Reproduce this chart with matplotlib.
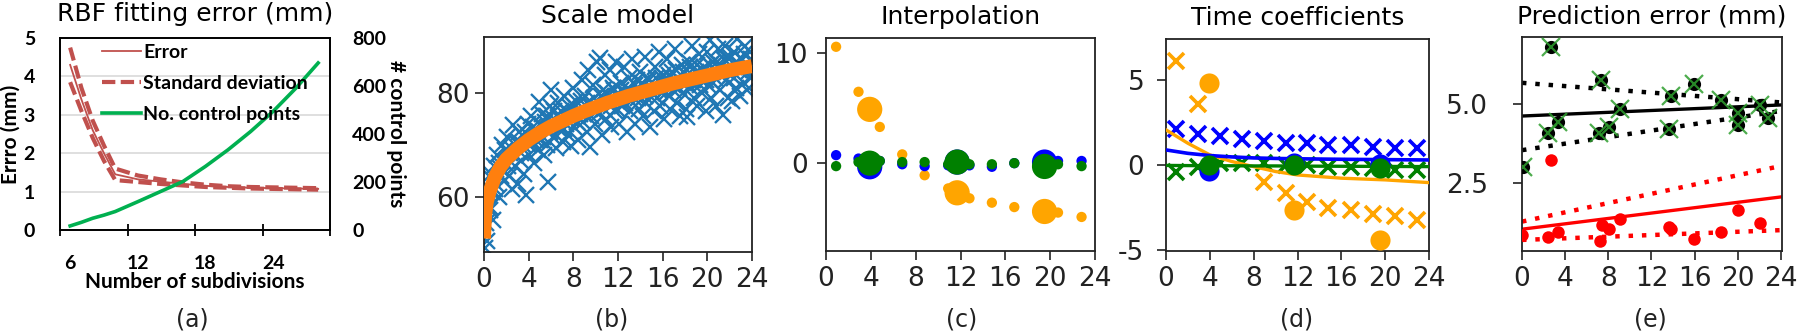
import matplotlib
matplotlib.use("Agg")
import matplotlib.pyplot as plt
from matplotlib.lines import Line2D

plt.rcParams['font.family'] = ['DejaVu Sans']
plt.rcParams['axes.unicode_minus'] = False
plt.rcParams['axes.linewidth'] = 1.3

# ---------------- (a) RBF fitting error ----------------
subdiv = [6, 7, 8, 9, 10, 12, 14, 16, 18, 20, 22, 24, 26, 28]
err_mean = [4.3, 3.4, 2.6, 2.0, 1.45, 1.32, 1.26, 1.2, 1.15, 1.12, 1.1, 1.09, 1.08, 1.07]
err_upper = [4.75, 3.7, 2.85, 2.2, 1.6, 1.42, 1.32, 1.24, 1.18, 1.14, 1.12, 1.11, 1.1, 1.09]
err_lower = [3.85, 3.1, 2.4, 1.8, 1.3, 1.25, 1.2, 1.16, 1.12, 1.1, 1.08, 1.07, 1.06, 1.05]
n_ctrl = [17, 32, 49, 62, 77, 118, 160, 202, 265, 334, 410, 494, 590, 696]
a_xticks = [6, 12, 18, 24]

# ---------------- (b) Scale model ----------------
scale_x = [0.05, 0.15, 0.25, 0.3, 0.4, 0.5, 0.6, 0.7, 0.8, 0.9,
           1.05, 1.2, 1.3, 1.45, 1.6, 1.75, 1.9,
           2.05, 2.2, 2.35, 2.5, 2.6, 2.75, 2.9,
           3.0, 3.15, 3.3, 3.45, 3.6, 3.8, 3.9,
           4.05, 4.2, 4.35, 4.5, 4.65, 4.8, 4.9,
           5.05, 5.2, 5.35, 5.5, 5.65, 5.76, 5.9,
           6.0, 6.15, 6.3, 6.45, 6.6, 6.75, 6.9,
           7.05, 7.2, 7.35, 7.5, 7.65, 7.8, 7.95,
           8.1, 8.25, 8.4, 8.6, 8.75, 8.9,
           9.05, 9.2, 9.35, 9.5, 9.65, 9.8, 9.95,
           10.1, 10.25, 10.4, 10.55, 10.7, 10.85, 10.95,
           11.1, 11.25, 11.4, 11.55, 11.7, 11.85, 11.95,
           12.1, 12.25, 12.4, 12.55, 12.7, 12.85, 12.95,
           13.1, 13.25, 13.4, 13.55, 13.7, 13.85, 13.95,
           14.1, 14.25, 14.4, 14.55, 14.7, 14.9,
           15.05, 15.2, 15.35, 15.5, 15.65, 15.8, 15.95,
           16.1, 16.25, 16.4, 16.55, 16.7, 16.85, 16.95,
           17.1, 17.25, 17.4, 17.55, 17.7, 17.85, 17.95,
           18.1, 18.2, 18.35, 18.5, 18.65, 18.8, 18.95,
           19.1, 19.25, 19.4, 19.55, 19.7, 19.85, 19.95,
           20.1, 20.2, 20.35, 20.5, 20.65, 20.8, 20.95,
           21.1, 21.25, 21.4, 21.55, 21.7, 21.85, 21.95,
           22.1, 22.25, 22.4, 22.55, 22.7, 22.85, 22.95,
           23.1, 23.25, 23.4, 23.55, 23.7, 23.85, 23.95]
scale_y = [50.2, 55.0, 58.5, 51.5, 62.0, 57.5, 64.5, 61.0, 55.5, 66.0,
           62.5, 68.0, 60.0, 65.5, 70.0, 63.0, 66.5,
           71.5, 64.0, 68.5, 61.5, 73.8, 66.0, 70.5,
           62.5, 72.5, 67.0, 70.0, 64.5, 60.4, 74.0,
           68.0, 75.5, 70.5, 66.5, 73.0, 69.0, 78.3,
           71.0, 76.0, 68.0, 74.5, 70.0, 62.9, 77.5,
           80.6, 71.5, 75.0, 69.5, 78.0, 73.0, 76.5,
           70.5, 79.5, 74.0, 72.0, 77.5, 69.8, 81.0,
           73.5, 78.5, 71.0, 76.0, 82.5, 74.5,
           79.5, 72.5, 84.5, 69.7, 77.5, 81.5, 74.0,
           86.0, 76.0, 86.7, 72.0, 80.5, 83.5, 75.0,
           78.0, 84.5, 73.5, 81.0, 76.5, 86.0, 79.5,
           74.0, 82.0, 77.5, 85.0, 80.0, 72.5, 83.0,
           76.5, 86.5, 79.0, 74.0, 82.5, 77.0, 84.0,
           80.0, 75.5, 87.0, 78.0, 83.0, 73.5,
           81.0, 76.5, 85.0, 79.0, 88.0, 77.5, 83.0,
           75.0, 82.0, 86.5, 79.5, 77.0, 84.0, 80.5,
           88.5, 78.0, 83.0, 75.5, 85.5, 80.0, 82.0,
           77.0, 75.4, 86.0, 81.0, 89.0, 79.0, 84.0,
           77.5, 87.5, 82.5, 80.0, 85.0, 76.5, 88.0,
           81.5, 90.2, 79.0, 86.0, 83.0, 77.5, 88.5,
           80.5, 85.5, 75.8, 89.0, 82.5, 79.0, 86.5,
           83.5, 78.5, 88.0, 81.0, 90.5, 84.5, 79.5,
           86.5, 82.0, 89.0, 80.5, 85.0, 88.0, 83.0]
# points close to the fitted curve (dense core of the band)
scale_x2 = [0.35, 0.55, 0.75, 1.0, 1.35, 1.55, 1.85, 2.15, 2.45, 2.8, 3.1, 3.35, 3.7,
            4.0, 4.4, 4.7, 5.0, 5.3, 5.6, 5.95, 6.25, 6.55, 6.85, 7.15, 7.45, 7.75,
            8.05, 8.35, 8.65, 8.95, 9.25, 9.55, 9.85, 10.15, 10.45, 10.75, 11.05,
            11.35, 11.65, 11.95, 12.3, 12.6, 12.9, 13.2, 13.5, 13.8, 14.15, 14.45,
            14.75, 15.1, 15.4, 15.7, 16.0, 16.3, 16.6, 16.9, 17.2, 17.5, 17.8, 18.15,
            18.45, 18.75, 19.05, 19.35, 19.65, 19.9, 20.25, 20.55, 20.85, 21.15,
            21.45, 21.75, 22.05, 22.35, 22.65, 22.95, 23.3, 23.6, 23.9]
scale_y2 = [60.5, 58.0, 63.5, 61.5, 66.5, 64.0, 69.0, 66.0, 69.5, 68.0, 70.5, 68.5, 72.5,
            70.0, 73.5, 71.0, 74.0, 71.5, 75.5, 72.5, 76.5, 73.5, 75.0, 73.0, 76.5, 75.0,
            77.5, 74.5, 78.5, 76.0, 78.0, 75.5, 79.0, 76.5, 79.5, 77.0, 80.0,
            77.5, 80.5, 77.0, 80.5, 78.0, 81.0, 78.5, 81.5, 79.0, 82.0, 79.5,
            82.5, 80.0, 83.0, 80.5, 83.5, 80.0, 83.5, 81.5, 84.5, 81.0, 84.0, 82.0,
            85.0, 82.5, 85.5, 81.5, 84.5, 82.5, 85.5, 82.0, 86.0, 83.5,
            86.5, 84.0, 87.0, 83.0, 86.0, 84.5, 87.5, 84.0, 86.5]
fit_x = [0, 0.1, 0.25, 0.5, 1, 1.5, 2, 3, 4, 5, 6, 7, 8, 9, 10, 11, 12, 13, 14,
         15, 16, 17, 18, 19, 20, 21, 22, 23, 24]
fit_y = [52.0, 56.5, 59.0, 61.0, 64.0, 65.9, 67.3, 69.3, 71.0, 72.4, 73.6, 74.6,
         75.6, 76.5, 77.3, 78.1, 78.8, 79.5, 80.1, 80.7, 81.3, 81.9, 82.4, 82.9,
         83.4, 83.9, 84.4, 84.8, 85.2]

# ---------------- (c) Interpolation ----------------
interp_x = [0.9, 2.9, 3.9, 4.8, 6.8, 8.8, 10.9, 11.7, 12.8, 14.8, 16.8, 19.5, 20.7, 22.8]
interp_big = [0, 0, 1, 0, 0, 0, 0, 1, 0, 0, 0, 1, 0, 0]
interp_orange = [10.6, 6.5, 4.9, 3.3, 0.8, -1.1, -2.3, -2.7, -3.2, -3.6, -4.0, -4.4, -4.5, -4.9]
interp_blue = [0.73, 0.42, -0.33, 0.2, -0.1, -0.27, -0.2, 0.1, -0.2, -0.33, 0.0, 0.1, 0.2, 0.2]
interp_green = [-0.27, 0.1, 0.0, 0.2, 0.1, 0.1, -0.1, 0.1, -0.1, -0.1, 0.0, -0.3, -0.1, -0.27]

# ---------------- (d) Time coefficients ----------------
tc_x = [0.9, 2.95, 4.9, 6.9, 8.9, 10.95, 12.85, 14.8, 16.9, 18.9, 20.9, 22.9]
tc_blue = [2.1, 1.8, 1.67, 1.53, 1.41, 1.27, 1.27, 1.18, 1.18, 1.04, 0.98, 0.98]
tc_green = [-0.39, -0.1, 0.1, 0.1, 0.1, 0.0, 0.0, -0.1, -0.1, -0.2, -0.3, -0.3]
tc_orange_x = [0.9, 2.95, 8.9, 10.95, 12.85, 14.8, 16.9, 18.9, 20.9, 22.9]
tc_orange = [6.08, 3.59, -0.98, -1.67, -2.16, -2.55, -2.65, -2.9, -3.0, -3.24]
tc_line_x = [0, 2, 4, 6, 8, 10, 12, 16, 20, 24]
tc_line_blue = [0.88, 0.68, 0.55, 0.47, 0.41, 0.38, 0.36, 0.33, 0.31, 0.29]
tc_line_orange = [2.06, 1.27, 0.59, 0.2, -0.1, -0.39, -0.59, -0.78, -0.88, -1.04]
tc_line_green = [-0.03, -0.04, -0.05, -0.05, -0.06, -0.06, -0.07, -0.08, -0.09, -0.1]
tc_ctrl_x = [3.9, 11.7, 19.5]
tc_ctrl_orange = [4.8, -2.65, -4.4]
tc_ctrl_blue = [-0.33, 0.1, 0.05]
tc_ctrl_green = [0.0, 0.0, -0.2]

# ---------------- (e) Prediction error ----------------
pe_black_x = [0.1, 2.45, 2.7, 3.3, 7.1, 7.35, 8.1, 9.1, 13.6, 13.8, 15.9, 18.4, 20.05, 20.05, 22.1, 22.8]
pe_black = [3.02, 4.07, 6.81, 4.44, 4.07, 5.76, 4.28, 4.83, 4.21, 5.26, 5.62, 5.13, 4.71, 4.34, 4.97, 4.55]
pe_red_x = [0.0, 2.45, 2.7, 3.3, 7.2, 7.4, 8.1, 9.1, 13.6, 13.8, 15.9, 18.4, 20.05, 22.1]
pe_red = [0.85, 0.8, 3.23, 0.96, 0.67, 1.17, 1.04, 1.35, 1.12, 1.05, 0.72, 0.96, 1.65, 1.22]
pe_line_x = [0, 24]
pe_black_fit = [4.62, 4.97]
pe_black_hi = [5.67, 5.05]
pe_black_lo = [3.54, 4.78]
pe_red_fit = [1.04, 2.06]
pe_red_hi = [1.28, 3.04]
pe_red_lo = [0.70, 1.01]

W, H = 1800, 333
fig = plt.figure(figsize=(W / 100, H / 100), dpi=100)


def rect(l, r, t, b):
    return [l / W, 1 - b / H, (r - l) / W, (b - t) / H]


TICK = 19
TITLE = 18
xticks24 = [0, 4, 8, 12, 16, 20, 24]


def style(ax, ypad):
    ax.tick_params(labelsize=TICK, length=6.5, width=1.2, colors='#222222', pad=4.5)
    ax.tick_params(axis='y', pad=ypad)
    for s in ax.spines.values():
        s.set_color('#222222')


# ---------- (a) ----------
red = '#C0504D'
grn = '#00B050'
bold = dict(family='Lato', weight='bold')
axA = fig.add_axes(rect(60, 330, 38, 230))
axA.set_xlim(5.1, 29.05)
axA.set_ylim(0, 5)
axA.yaxis.grid(True, color='#d9d9d9', lw=1.2)
axA.set_axisbelow(True)
axA.plot(subdiv, err_mean, color=red, lw=1.3)
axA.plot(subdiv, err_upper, color=red, lw=3, ls=(0, (3.2, 1.3)))
axA.plot(subdiv, err_lower, color=red, lw=3, ls=(0, (3.2, 1.3)))
axA.set_xticks(a_xticks)
axA.set_xticks([5.11, 11.14, 17.08, 23.1, 29.05], minor=True)
axA.tick_params(axis='x', which='major', length=0, pad=18)
axA.tick_params(axis='x', which='minor', length=9, width=1.3, direction='inout')
axA.tick_params(axis='y', length=0, pad=18)
axA.set_yticks([0, 1, 2, 3, 4, 5])
for lab in axA.get_xticklabels() + axA.get_yticklabels():
    lab.set_fontfamily('Lato'); lab.set_fontweight('bold'); lab.set_fontsize(14)
axA.set_xlabel('Number of subdivisions', fontsize=15, labelpad=0, **bold)
axA.set_ylabel('Errro (mm)', fontsize=15, labelpad=2, **bold)
axA.set_title('RBF fitting error (mm)', fontsize=TITLE, pad=12)
for s in axA.spines.values():
    s.set_color('#222222')
axA2 = axA.twinx()
axA2.plot(subdiv, n_ctrl, color=grn, lw=2.6)
axA2.set_ylim(0, 800)
axA2.set_yticks([0, 200, 400, 600, 800])
axA2.tick_params(axis='y', length=0, pad=16)
for lab in axA2.get_yticklabels():
    lab.set_fontfamily('Lato'); lab.set_fontweight('bold'); lab.set_fontsize(14)
axA2.set_ylabel('# control points', rotation=270, fontsize=15, labelpad=14, **bold)
handles = [Line2D([], [], color=red, lw=1.3),
           Line2D([], [], color=red, lw=3, ls=(0, (3.2, 1.3))),
           Line2D([], [], color=grn, lw=2.6)]
axA2.legend(handles, ['Error', 'Standard deviation', 'No. control points'],
            loc='upper left', bbox_to_anchor=(0.14, 0.99), frameon=False,
            prop=dict(family='Lato', weight='bold', size=14), handlelength=2.0,
            handletextpad=0.15, labelspacing=0.72, borderpad=0.2, borderaxespad=0)

# ---------- (b) ----------
axB = fig.add_axes(rect(484, 752, 37, 252))
axB.plot(scale_x, scale_y, 'x', color='#1f77b4', ms=12, mew=1.7, zorder=2)
axB.plot(scale_x2, scale_y2, 'x', color='#1f77b4', ms=12, mew=1.7, zorder=2)
axB.plot(fit_x, fit_y, color='#ff7f0e', lw=10, zorder=3, solid_capstyle='butt')
axB.set_xlim(0, 24)
axB.set_ylim(49.4, 90.8)
axB.set_xticks(xticks24)
axB.set_yticks([60, 80])
axB.set_title('Scale model', fontsize=TITLE, pad=10)
style(axB, 3.5)

# ---------- (c) ----------
axC = fig.add_axes(rect(826, 1095, 38, 251))
sizes = [330 if b else 55 for b in interp_big]
axC.scatter(interp_x, interp_orange, s=sizes, color='orange', lw=0, zorder=2)
axC.scatter(interp_x, interp_blue, s=sizes, color='blue', lw=0, zorder=3)
axC.scatter(interp_x, interp_green, s=sizes, color='green', lw=0, zorder=4)
axC.set_xlim(0, 24)
axC.set_ylim(-8.0, 11.4)
axC.set_xticks(xticks24)
axC.set_yticks([0, 10])
axC.set_title('Interpolation', fontsize=TITLE, pad=10)
style(axC, 6.5)

# ---------- (d) ----------
axD = fig.add_axes(rect(1166, 1429, 39, 251))
axD.plot(tc_orange_x, tc_orange, 'x', color='orange', ms=11, mew=2.6, zorder=2)
axD.plot(tc_x, tc_green, 'x', color='green', ms=11, mew=2.6, zorder=2)
axD.plot(tc_x, tc_blue, 'x', color='blue', ms=11, mew=2.6, zorder=2)
axD.plot(tc_line_x, tc_line_orange, color='orange', lw=2.4, zorder=3)
axD.plot(tc_line_x, tc_line_green, color='green', lw=2.4, zorder=3)
axD.plot(tc_line_x, tc_line_blue, color='blue', lw=2.6, zorder=3)
axD.scatter(tc_ctrl_x, tc_ctrl_orange, s=210, color='orange', lw=0, zorder=4)
axD.scatter(tc_ctrl_x, tc_ctrl_blue, s=210, color='blue', lw=0, zorder=4)
axD.scatter(tc_ctrl_x, tc_ctrl_green, s=210, color='green', lw=0, zorder=5)
axD.set_xlim(0, 24)
axD.set_ylim(-5.06, 7.4)
axD.set_xticks(xticks24)
axD.set_yticks([-5, 0, 5])
axD.set_title('Time coefficients', fontsize=TITLE, pad=10)
style(axD, 9)

# ---------- (e) ----------
axE = fig.add_axes(rect(1522, 1782, 37, 251))
dot = (0, (1, 2))
axE.plot(pe_line_x, pe_black_fit, color='black', lw=2.4, zorder=2)
axE.plot(pe_line_x, pe_black_hi, color='black', lw=3.2, ls=dot, zorder=2)
axE.plot(pe_line_x, pe_black_lo, color='black', lw=3.2, ls=dot, zorder=2)
axE.plot(pe_line_x, pe_red_fit, color='red', lw=2.4, zorder=2)
axE.plot(pe_line_x, pe_red_hi, color='red', lw=3.2, ls=dot, zorder=2)
axE.plot(pe_line_x, pe_red_lo, color='red', lw=3.2, ls=dot, zorder=2)
axE.plot(pe_red_x, pe_red, 'o', color='red', ms=9, mew=0, zorder=3)
axE.plot(pe_black_x, pe_black, 'o', color='black', ms=9.5, mew=0, zorder=3)
axE.plot(pe_black_x, pe_black, 'x', color='#2e9e2e', ms=13, mew=1.6, alpha=0.85, zorder=4)
axE.set_xlim(0, 24.1)
axE.set_ylim(0.35, 7.12)
axE.set_xticks(xticks24)
axE.set_yticks([2.5, 5.0])
axE.set_yticklabels(['2.5', '5.0'])
axE.set_title('Prediction error (mm)', fontsize=TITLE, pad=10)
style(axE, 18)

# panel letters
for cx, lab in [(192, '(a)'), (612, '(b)'), (962, '(c)'), (1297, '(d)'), (1650, '(e)')]:
    fig.text(cx / W, 1 - 320 / H, lab, ha='center', va='center', fontsize=17, color='#222222')

fig.savefig('out.png', dpi=100)
